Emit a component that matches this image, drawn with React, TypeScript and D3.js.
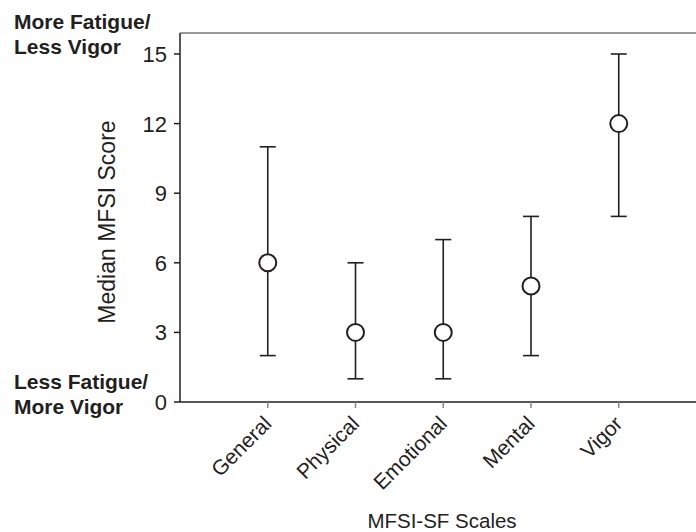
import React from "react";
import * as d3 from "d3";

const categories = ["General", "Physical", "Emotional", "Mental", "Vigor"];
const medians = [6, 3, 3, 5, 12];
const lows = [2, 1, 1, 2, 8];
const highs = [11, 6, 7, 8, 15];
const yTicks = [0, 3, 6, 9, 12, 15];

const W = 696;
const H = 532;
const left = 180;
const bottom = 402;
const top = 33;

export default function App() {
  const x = d3.scaleLinear().domain([0, categories.length + 1]).range([left, left + 87.75 * (categories.length + 1)]);
  const y = d3.scaleLinear().domain([0, 15]).range([bottom, 54]);
  const font = "Arial, 'Liberation Sans', Helvetica, sans-serif";
  const ink = "#231f20";
  return (
    <svg width={W} height={H} style={{ position: "absolute", left: 0, top: 0 }} fontFamily={font}>
      <rect width={W} height={H} fill="#fff" />
      {/* frame */}
      <line x1={left} x2={W} y1={top} y2={top} stroke="#777" strokeWidth={1.5} />
      <line x1={left} x2={left} y1={top} y2={bottom} stroke={ink} strokeWidth={1.5} />
      <line x1={left} x2={W} y1={bottom} y2={bottom} stroke={ink} strokeWidth={1.5} />
      {/* y ticks */}
      {yTicks.map((t) => (
        <g key={t}>
          <line x1={left - 6} x2={left} y1={y(t)} y2={y(t)} stroke={ink} strokeWidth={1.5} />
          <text x={left - 13} y={y(t)} dy="0.36em" textAnchor="end" fontSize={22} fill={ink}>
            {t}
          </text>
        </g>
      ))}
      {/* x ticks */}
      {categories.map((c, i) => (
        <g key={c}>
          <line x1={x(i + 1)} x2={x(i + 1)} y1={bottom} y2={bottom + 6} stroke="#888" strokeWidth={1.5} />
          <text
            transform={`translate(${x(i + 1) + 5},${bottom + 23}) rotate(-45)`}
            textAnchor="end"
            fontSize={21}
            fill={ink}
          >
            {c}
          </text>
        </g>
      ))}
      {/* error bars */}
      {categories.map((c, i) => (
        <g key={"e" + c}>
          <line x1={x(i + 1)} x2={x(i + 1)} y1={y(lows[i])} y2={y(highs[i])} stroke={ink} strokeWidth={1.6} />
          <line x1={x(i + 1) - 8} x2={x(i + 1) + 8} y1={y(lows[i])} y2={y(lows[i])} stroke={ink} strokeWidth={1.6} />
          <line x1={x(i + 1) - 8} x2={x(i + 1) + 8} y1={y(highs[i])} y2={y(highs[i])} stroke={ink} strokeWidth={1.6} />
          <circle cx={x(i + 1)} cy={y(medians[i])} r={8.5} fill="#fff" stroke={ink} strokeWidth={2} />
        </g>
      ))}
      {/* axis titles */}
      <text
        transform={`translate(115,222) rotate(-90)`}
        textAnchor="middle"
        fontSize={23}
        fill={ink}
      >
        Median MFSI Score
      </text>
      <text x={442} y={528} textAnchor="middle" fontSize={20.5} fill={ink}>
        MFSI-SF Scales
      </text>
      {/* annotations */}
      <text x={14} y={29} fontSize={21} fontWeight="bold" fill={ink}>More Fatigue/</text>
      <text x={14} y={54} fontSize={21} fontWeight="bold" fill={ink}>Less Vigor</text>
      <text x={14} y={389} fontSize={21} fontWeight="bold" fill={ink}>Less Fatigue/</text>
      <text x={14} y={414} fontSize={21} fontWeight="bold" fill={ink}>More Vigor</text>
    </svg>
  );
}
